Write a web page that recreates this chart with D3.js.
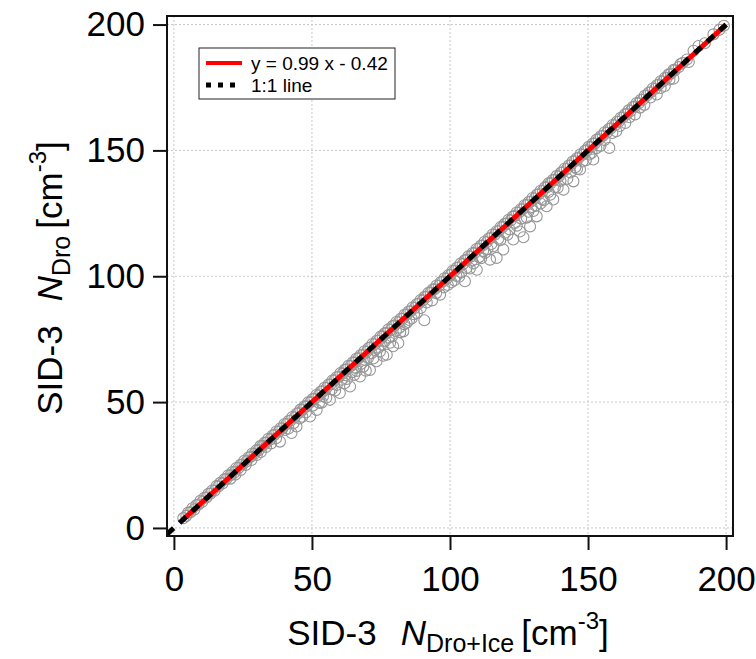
<!DOCTYPE html>
<html>
<head>
<meta charset="utf-8">
<script src="https://cdn.jsdelivr.net/npm/d3@7"></script>
<style>
    body { margin: 0; background: #fff; }
    text { font-family: "Liberation Sans", Arial, sans-serif; fill: #000; }
</style>
</head>
<body>
<div id="scatter"></div>
<script>
// points sitting on the 1:1 line [N Dro+Ice, N Dro]
var pointsOnLine = [
    [3.4,3.9],[4.5,4.8],[6,6.2],[7.4,7.3],[8.9,9.3],[10.3,10.4],[11.8,12.1],[13.2,13.6],[14.7,14.8],[16.1,16.5],
    [17.6,17.7],[19,19.4],[20.5,20.9],[21.9,22],[23.4,23.8],[24.8,25.2],[26.3,26.4],[27.7,28.2],[29.2,29.5],[30.6,30.8],
    [32.1,32.6],[33.5,33.9],[35,35.2],[36.4,36.9],[37.9,38.2],[39.3,39.5],[40.8,41.3],[42.2,42.6],[43.7,43.9],[45.1,45.6],
    [46.6,46.9],[48,48.3],[49.5,50],[50.9,51.3],[52.4,52.6],[53.8,54.3],[55.3,55.6],[56.7,57],[58.2,58.7],[59.6,60],
    [61.1,61.3],[62.5,63],[64,64.3],[65.4,65.7],[66.9,67.4],[68.3,68.7],[69.8,70],[71.2,71.7],[72.7,73],[74.1,74.4],
    [75.6,76.1],[77,77.4],[78.5,78.7],[79.9,80.4],[81.4,81.7],[82.8,83.1],[84.3,84.8],[85.7,86.1],[87.2,87.4],[88.6,89.1],
    [90.1,90.4],[91.5,91.8],[93,93.5],[94.4,94.8],[95.9,96.1],[97.3,97.8],[98.8,99.1],[100.2,100.5],[101.7,102.2],[103.1,103.5],
    [104.6,104.8],[106,106.5],[107.5,107.8],[108.9,109.2],[110.4,110.9],[111.8,112.2],[113.3,113.5],[114.7,115.2],[116.2,116.5],[117.6,117.9],
    [119.1,119.6],[120.5,120.9],[122,122.2],[123.4,123.9],[124.9,125.2],[126.3,126.6],[127.8,128.3],[129.2,129.6],[130.7,130.9],[132.1,132.6],
    [133.6,133.9],[135,135.3],[136.5,137],[137.9,138.3],[139.4,139.6],[140.8,141.3],[142.3,142.6],[143.7,144],[145.2,145.7],[146.6,147],
    [148.1,148.3],[149.5,150],[151,151.3],[152.4,152.7],[153.9,154.4],[155.3,155.7],[156.8,157],[158.2,158.7],[159.7,160],[161.1,161.4],
    [162.6,163.1],[164,164.4],[165.5,165.7],[166.9,167.4],[168.4,168.7],[169.8,170.1],[171.3,171.8],[172.7,173.1],[174.2,174.4],[175.6,176.1],
    [177.1,177.4],[178.5,178.8],[180,180.5],[181.4,181.8],[182.9,183.1],[184.3,184.8],[185.8,186.1],[188.2,189.6],[190,191.5],[192.3,192.6],
    [195.4,196.1],[197.6,197.9],[199.2,199.5]
];

// points just above the line (upper edge of the grey band)
var pointsAbove = [
    [5.2,6.1],[6.7,7.8],[8.1,9],[9.6,10.8],[11,12],[12.5,13.6],[13.9,14.9],[15.4,16.6],[16.8,17.9],[18.3,19.3],
    [19.7,20.9],[21.2,22.2],[22.6,23.8],[24.1,25.1],[25.5,26.7],[27,28],[28.4,29.6],[29.9,30.9],[31.3,32.5],[32.8,33.8],
    [34.2,35.4],[35.7,36.7],[37.1,38.3],[38.6,39.6],[40,41.2],[41.5,42.5],[42.9,44.1],[44.4,45.4],[45.8,47],[47.3,48.3],
    [48.7,49.9],[50.2,51.2],[51.6,52.8],[53.1,54.1],[54.5,55.7],[56,57],[57.4,58.6],[58.9,59.9],[60.3,61.5],[61.8,62.8],
    [63.2,64.4],[64.7,65.7],[66.1,67.3],[67.6,68.6],[69,70.2],[70.5,71.5],[71.9,73.1],[73.4,74.4],[74.8,76],[76.3,77.3],
    [77.7,78.9],[79.2,80.2],[80.6,81.8],[82.1,83.1],[83.5,84.7],[85,86],[86.4,87.6],[87.9,88.9],[89.3,90.5],[90.8,91.8],
    [92.2,93.4],[93.7,94.7],[95.1,96.3],[96.6,97.6],[98,99.2],[99.5,100.5],[100.9,102.1],[102.4,103.4],[103.8,105],[105.3,106.3],
    [106.7,107.9],[108.2,109.2],[109.6,110.8],[111.1,112.1],[112.5,113.7],[114,115],[115.4,116.6],[116.9,117.9],[118.3,119.5],[119.8,120.8],
    [121.2,122.4],[122.7,123.7],[124.1,125.3],[125.6,126.6],[127,128.2],[128.5,129.5],[129.9,131.1],[131.4,132.4],[132.8,134],[134.3,135.3],
    [135.7,136.9],[137.2,138.2],[138.6,139.8],[140.1,141.1],[141.5,142.7],[143,144],[144.4,145.6],[145.9,146.9],[147.3,148.5],[148.8,149.8],
    [150.2,151.4],[151.7,152.7],[153.1,154.3],[154.6,155.6],[156,157.2],[157.5,158.5],[158.9,160.1],[160.4,161.4],[161.8,163],[163.3,164.3],
    [164.7,165.9],[166.2,167.2],[167.6,168.8],[169.1,170.1],[170.5,171.7],[172,173],[173.4,174.6],[174.9,175.9],[176.3,177.5],[177.8,178.8],
    [179.2,180.2],[181,182],[183.5,184.3]
];

// points falling under the line
var pointsBelow = [
    [20.5,19.6],[22.3,21.2],[24.2,23],[26,25],[28.1,27],[30,29],[31.5,30.2],[33.4,32.2],[35.2,33.6],[37,35.6],
    [38.4,34.3],[40.2,38.9],[41.5,39.5],[42.6,37.7],[43.3,41.6],[44.4,40.3],[45.5,43.5],[46.5,44.2],[47.8,45.9],[49.3,44.3],
    [50.3,48.6],[51.7,46.9],[52.6,49.7],[53.5,49.8],[54,52.3],[55.2,51.7],[56.5,50.9],[57.2,55.1],[58.4,54.6],[59,56.8],
    [60.1,53.6],[60.8,58.9],[61.8,57.5],[62.1,60.7],[62.7,59.2],[63.8,56.2],[64.5,61.9],[65.3,60.8],[65.9,63.6],[66.2,62.4],
    [67.4,60.2],[67.9,65.2],[68.6,64.1],[69,66.8],[69.5,62.5],[70.3,67.5],[71,62.8],[71.6,69.4],[72.2,67.3],[72.8,70.7],
    [73.4,66.2],[74,71.6],[74.6,70.1],[75.2,72.9],[75.8,68.4],[76.5,74.3],[77.1,68.8],[77.8,75.6],[78.3,73.6],[79,76.1],
    [79.4,72.2],[80.4,78.2],[81.3,73.5],[81.7,79.6],[82,77.8],[83.1,78.1],[83.5,80.9],[84.3,81.4],[85.2,82.6],[86.1,83.2],
    [87,84.9],[88,85.4],[89.4,87.4],[90.7,82.5],[91.6,89.6],[93.5,90.4],[95,93.3],[96.4,92.7],[97.8,95.6],[99.2,96.5],
    [100.5,97.6],[101.6,98.4],[102.3,100.1],[103.3,99.8],[104.1,101.5],[105.4,98],[106,103.3],[107.2,103.1],[108,106.2],[108.5,105.1],
    [109.7,102.6],[110.5,107.6],[111.3,107.2],[112,110],[112.7,109.3],[113.6,110.8],[114.5,106.6],[115,112.8],[115.7,111.9],[116.9,107.3],
    [117.5,114.9],[118.2,114.3],[119.3,110.6],[119.9,117.3],[120.8,116.5],[121.6,118.6],[122.9,114.6],[123.5,121.2],[124.2,120.1],[125.3,117.8],
    [125.8,122.9],[126.6,115.5],[127.8,123.3],[128.4,125.6],[129,119.8],[129.6,127.5],[130.2,125.9],[131,128.1],[131.4,123.8],[132.8,128.9],
    [133.3,130.6],[134,130.2],[135,127.8],[135.7,133.5],[136.3,132.4],[137.4,130.5],[138,135.4],[139,135.2],[140,137.9],[141.1,134.4],
    [142.5,138.7],[143.6,141.2],[144.7,137.7],[145.4,143.3],[146,142.6],[147.1,142.4],[148,145.6],[149.2,146.1],[150.5,148.4],[151.3,149],
    [151.9,146.4],[153,150.9],[154.5,151.8],[156,154.1],[157.7,151],[158.8,156.9],[160.2,157.6],[161.5,159.7],[163.5,160.9],[165,163.2],
    [167,164.3],[168.8,167],[170.4,168.1],[172.6,171],[174.9,172.2],[176.3,174.8],[177.8,175.6],[179.5,178.2],[180.9,178.5],[186.5,185.1]
];

var xTicks = [0, 50, 100, 150, 200],
    yTicks = [0, 50, 100, 150, 200];

// ends of the drawn fit line and of the 1:1 line, as read on the picture
var fitLine = [[3, 3], [200, 200]],
    oneToOneLine = [[-2.5, -2.5], [200, 200]];

var legendLabels = ["y = 0.99 x - 0.42", "1:1 line"];

var totalWidth = 756, totalHeight = 659,
    margin = {top: 16, right: 23, bottom: 123, left: 167},
    width = totalWidth - margin.left - margin.right,
    height = totalHeight - margin.top - margin.bottom;

var x = d3.scaleLinear().domain([-2.5, 202.5]).range([0, width]),
    y = d3.scaleLinear().domain([-3.2, 203.4]).range([height, 0]);

var svg = d3.select("#scatter").append("svg")
    .attr("width", totalWidth)
    .attr("height", totalHeight)
    .append("g")
        .attr("transform", "translate(" + margin.left + "," + margin.top + ")");

svg.append("defs").append("clipPath")
    .attr("id", "plotClip")
    .append("rect")
    .attr("width", width)
    .attr("height", height);

// dotted grid
svg.selectAll(".gridx")
    .data(xTicks)
    .enter()
    .append("line")
    .attr("x1", function(d) { return x(d); })
    .attr("x2", function(d) { return x(d); })
    .attr("y1", 0)
    .attr("y2", height)
    .attr("stroke", "#c8c8c8")
    .attr("stroke-dasharray", "2,2");
svg.selectAll(".gridy")
    .data(yTicks)
    .enter()
    .append("line")
    .attr("x1", 0)
    .attr("x2", width)
    .attr("y1", function(d) { return y(d); })
    .attr("y2", function(d) { return y(d); })
    .attr("stroke", "#c8c8c8")
    .attr("stroke-dasharray", "2,2");

var plot = svg.append("g").attr("clip-path", "url(#plotClip)");

// open circles
plot.selectAll("circle")
    .data(pointsBelow.concat(pointsAbove, pointsOnLine))
    .enter()
    .append("circle")
    .attr("cx", function(d) { return x(d[0]); })
    .attr("cy", function(d) { return y(d[1]); })
    .attr("r", 5.5)
    .attr("fill", "none")
    .attr("stroke", "#969696")
    .attr("stroke-width", 1.1);

// fit line then 1:1 line on top
var line = d3.line()
    .x(function(d) { return x(d[0]); })
    .y(function(d) { return y(d[1]); });
plot.append("path")
    .attr("d", line(fitLine))
    .attr("fill", "none")
    .attr("stroke", "#ff0000")
    .attr("stroke-width", 5);
plot.append("path")
    .attr("d", line(oneToOneLine))
    .attr("fill", "none")
    .attr("stroke", "#000")
    .attr("stroke-width", 5)
    .attr("stroke-dasharray", "9,8");

// frame
svg.append("rect")
    .attr("width", width)
    .attr("height", height)
    .attr("fill", "none")
    .attr("stroke", "#111")
    .attr("stroke-width", 2);

// axes
svg.append("g")
    .attr("transform", "translate(0," + height + ")")
    .call(d3.axisBottom(x).tickValues(xTicks).tickSize(14).tickPadding(16).tickSizeOuter(0));
svg.append("g")
    .call(d3.axisLeft(y).tickValues(yTicks).tickSize(14).tickPadding(8).tickSizeOuter(0));
svg.selectAll(".domain").remove();
svg.selectAll(".tick line").attr("stroke", "#111").attr("stroke-width", 2);
svg.selectAll(".tick text")
    .attr("font-family", "Liberation Sans, Arial, sans-serif")
    .attr("font-size", 35)
    .attr("fill", "#000");

// axis titles
var xt = svg.append("text")
    .attr("x", width / 2 - 2)
    .attr("y", height + 109)
    .attr("text-anchor", "middle")
    .attr("font-size", 35);
xt.append("tspan").text("SID-3");
xt.append("tspan").attr("dx", 24).attr("font-style", "italic").text("N");
xt.append("tspan").attr("dy", 7).attr("font-size", 25).text("Dro+Ice");
xt.append("tspan").attr("dy", -7).attr("dx", 7).text("[cm");
xt.append("tspan").attr("dy", -16).attr("font-size", 24).text("-3");
xt.append("tspan").attr("dy", 16).text("]");

var yt = svg.append("text")
    .attr("transform", "translate(" + (-105) + "," + (height / 2 + 2) + ") rotate(-90)")
    .attr("text-anchor", "middle")
    .attr("font-size", 35);
yt.append("tspan").text("SID-3");
yt.append("tspan").attr("dx", 24).attr("font-style", "italic").text("N");
yt.append("tspan").attr("dy", 8).attr("font-size", 25).text("Dro");
yt.append("tspan").attr("dy", -8).attr("dx", 7).text("[cm");
yt.append("tspan").attr("dy", -16).attr("font-size", 24).text("-3");
yt.append("tspan").attr("dy", 16).text("]");

// legend
var legend = svg.append("g").attr("transform", "translate(32,32)");
legend.append("rect")
    .attr("width", 196)
    .attr("height", 51)
    .attr("fill", "#fff")
    .attr("stroke", "#222")
    .attr("stroke-width", 1);
legend.append("line")
    .attr("x1", 7).attr("x2", 43)
    .attr("y1", 15).attr("y2", 15)
    .attr("stroke", "#ff0000")
    .attr("stroke-width", 4);
legend.append("line")
    .attr("x1", 7).attr("x2", 42)
    .attr("y1", 37).attr("y2", 37)
    .attr("stroke", "#000")
    .attr("stroke-width", 5)
    .attr("stroke-dasharray", "5,7");
legend.selectAll("text")
    .data(legendLabels)
    .enter()
    .append("text")
    .attr("x", 52)
    .attr("y", function(d, i) { return 22 + i * 22; })
    .attr("font-size", 19)
    .text(function(d) { return d; });
</script>
</body>
</html>
